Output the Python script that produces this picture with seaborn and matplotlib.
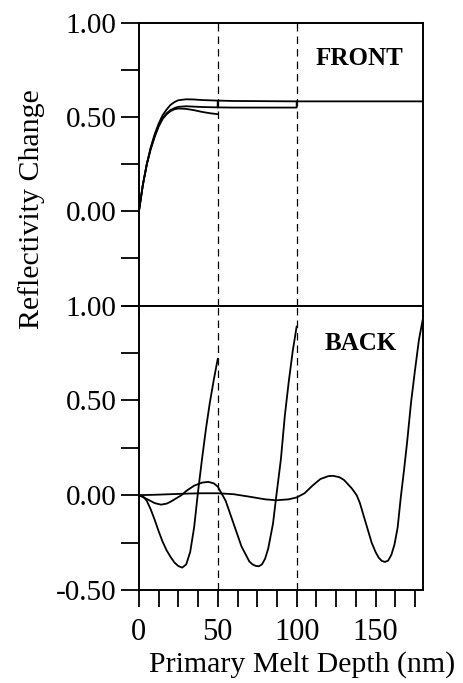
import numpy as np
import pandas as pd
import seaborn as sns
import matplotlib.pyplot as plt

# ---- data ----
# FRONT panel: three melt runs (stop at 50, 100 and 180 nm)
front_x_50 = [0, 2.5, 5, 7.5, 10, 12.5, 15, 17.5, 20, 22.5, 25, 30, 35, 40, 45, 50]
front_y_50 = [0, 0.14, 0.25, 0.33, 0.395, 0.45, 0.49, 0.515, 0.532, 0.542, 0.546,
              0.544, 0.537, 0.528, 0.521, 0.516]

front_x_100 = [0, 2.5, 5, 7.5, 10, 12.5, 15, 17.5, 20, 22.5, 25, 30, 35, 40, 50,
               50, 50, 60, 80, 100, 100]
front_y_100 = [0, 0.14, 0.25, 0.335, 0.40, 0.455, 0.495, 0.52, 0.538, 0.548, 0.555,
               0.558, 0.556, 0.554, 0.552, 0.584, 0.552, 0.551, 0.551, 0.551, 0.584]

front_x_180 = [0, 2.5, 5, 7.5, 10, 12.5, 15, 17.5, 20, 22.5, 25, 30, 35, 40, 50,
               60, 80, 100, 140, 180]
front_y_180 = [0, 0.14, 0.25, 0.34, 0.41, 0.465, 0.51, 0.54, 0.565, 0.58, 0.59,
               0.595, 0.594, 0.591, 0.588, 0.586, 0.585, 0.584, 0.584, 0.584]

# BACK panel
back_x_50 = [0, 2.5, 5, 7.5, 10, 12.5, 15, 17.5, 20, 22.5, 25, 27.5, 30, 32.5, 35,
             37.5, 40, 42.5, 45, 47.5, 50]
back_y_50 = [0, -0.005, -0.03, -0.075, -0.13, -0.19, -0.245, -0.29, -0.325, -0.355,
             -0.374, -0.382, -0.365, -0.3, -0.17, 0.02, 0.19, 0.35, 0.49, 0.61, 0.72]

back_x_100 = [0, 5, 10, 14, 17.5, 20, 25, 27, 30, 35, 40, 44, 47.5, 50, 53, 55, 60,
              65, 70, 72, 74, 76, 78, 80, 82, 85, 87, 90, 92.5, 95, 97.5, 100]
back_y_100 = [0, -0.02, -0.042, -0.05, -0.045, -0.035, -0.01, 0, 0.022, 0.05, 0.066,
              0.07, 0.062, 0.045, 0.0, -0.03, -0.15, -0.27, -0.35, -0.365, -0.373,
              -0.375, -0.365, -0.335, -0.28, -0.15, -0.01, 0.19, 0.42, 0.6, 0.76, 0.89]

back_x_180 = [0, 10, 20, 30, 40, 50, 60, 70, 80, 87, 95, 100, 105, 110, 115, 120,
              123, 127, 130, 135, 138, 140, 145, 147.5, 150, 152, 154, 156, 158,
              160, 162, 164, 166, 168, 170, 172.5, 175, 177.5, 180]
back_y_180 = [0, 0.002, 0.005, 0.008, 0.01, 0.01, 0.005, -0.008, -0.022, -0.027,
              -0.022, -0.012, 0.01, 0.05, 0.085, 0.1, 0.102, 0.095, 0.08, 0.035, 0,
              -0.04, -0.18, -0.25, -0.3, -0.33, -0.347, -0.352, -0.345, -0.315,
              -0.26, -0.17, -0.01, 0.13, 0.28, 0.49, 0.66, 0.82, 0.93]

stop_depths = [50, 100]
y_ticks = [-0.5, -0.25, 0, 0.25, 0.5, 0.75, 1.0]
x_ticks = [0, 12.5, 25, 37.5, 50, 62.5, 75, 87.5, 100, 112.5, 125, 137.5, 150, 162.5, 175]

sns.set_theme(style="ticks")
plt.rcParams['font.family'] = ['Liberation Serif', 'DejaVu Serif']
plt.rcParams['axes.linewidth'] = 1.4
plt.rcParams['axes.edgecolor'] = 'black'
plt.rcParams['text.color'] = 'black'

fig = plt.figure(figsize=(4.63, 6.83), dpi=100)
ax_top = fig.add_axes([0.300, 0.5527, 0.6134, 0.4136])
ax_bot = fig.add_axes([0.300, 0.1362, 0.6134, 0.4165])

front = [(front_x_50, front_y_50), (front_x_100, front_y_100), (front_x_180, front_y_180)]
back = [(back_x_50, back_y_50), (back_x_100, back_y_100), (back_x_180, back_y_180)]

for ax, curves in [(ax_top, front), (ax_bot, back)]:
    for xs, ys in curves:
        df = pd.DataFrame({'depth': xs, 'change': ys})
        sns.lineplot(data=df, x='depth', y='change', ax=ax, color='black',
                     linewidth=1.3, estimator=None, sort=False)
    for d in stop_depths:
        ax.axvline(d, color='black', linewidth=0.9, linestyle=(0, (6, 4)))
    ax.set_xlim(0, 180)
    ax.set_ylim(-0.5, 1.0)
    ax.set_xlabel('')
    ax.set_ylabel('')
    ax.set_yticks(y_ticks)
    ax.tick_params(axis='y', direction='out', length=13, width=1.3,
                   labelsize=21, pad=3, colors='black')
    for s in ax.spines.values():
        s.set_visible(True)
        s.set_color('black')

# top panel: labels only at 0, 0.5, 1
ax_top.set_yticklabels(['' if v not in (0, 0.5, 1.0) else f'{v:.2f}' for v in y_ticks])
ax_top.set_xticks(x_ticks)
ax_top.set_xticklabels([])
ax_top.tick_params(axis='x', direction='out', length=7, width=1.3)

ax_bot.set_yticklabels(['' if v not in (-0.5, 0, 0.5, 1.0) else f'{v:.2f}' for v in y_ticks])
ax_bot.set_xticks(x_ticks)
ax_bot.set_xticklabels([f'{v:g}' if v % 50 == 0 else '' for v in x_ticks])
ax_bot.tick_params(axis='x', direction='out', length=12, width=1.3,
                   labelsize=22, pad=8, colors='black')

ax_top.text(140, 0.81, 'FRONT', fontsize=18, fontweight='bold', ha='center', va='center')
ax_bot.text(140.5, 0.80, 'BACK', fontsize=18, fontweight='bold', ha='center', va='center')

fig.text(0.067, 0.694, 'Reflectivity Change', rotation=90, fontsize=21.5,
         ha='center', va='center')
fig.text(0.652, 0.016, 'Primary Melt Depth (nm)', fontsize=21.5,
         ha='center', va='baseline')

plt.savefig('out.png', dpi=100)
plt.close()
